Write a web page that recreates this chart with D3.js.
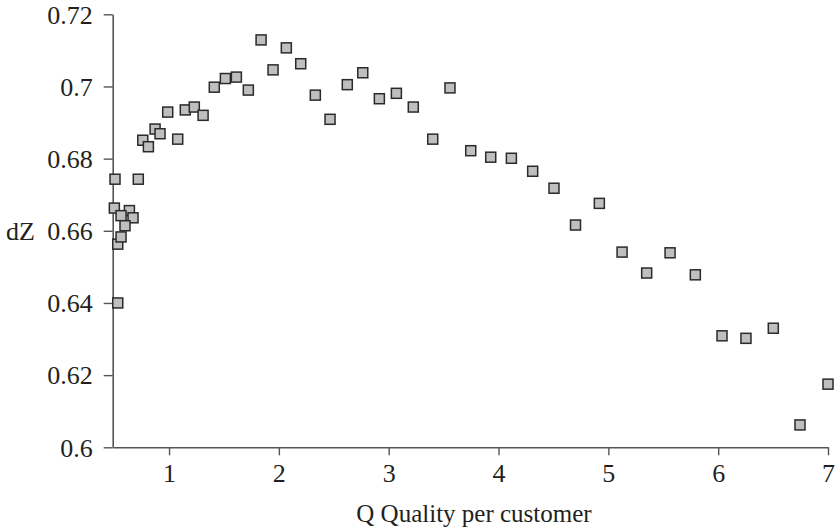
<!DOCTYPE html>
<html>
<head>
<meta charset="utf-8">
<script src="https://cdn.jsdelivr.net/npm/d3@7"></script>
<style>
  body { margin: 0; background: #fff; }
  svg text { font-family: "Liberation Serif", "Times New Roman", serif; fill: #231f20; }
</style>
</head>
<body>
<script>
// Q quality per customer (x) and dZ (y)
var qValues = [0.508, 0.720, 0.502, 0.639, 0.563, 0.672, 0.599, 0.533, 0.563, 0.533,
  0.761, 0.812, 0.873, 0.918, 0.988, 1.079, 1.148, 1.230, 1.310, 1.412,
  1.513, 1.613, 1.722, 1.838, 1.947, 2.068, 2.199, 2.332, 2.466, 2.623,
  2.764, 2.915, 3.070, 3.224, 3.401, 3.558, 3.747, 3.929, 4.117, 4.311,
  4.505, 4.701, 4.918, 5.125, 5.349, 5.562, 5.792, 6.035, 6.253, 6.502,
  6.745, 7.000];
var dzValues = [0.6743, 0.6743, 0.6663, 0.6656, 0.6642, 0.6636, 0.6614, 0.6563, 0.6583, 0.6400,
  0.6851, 0.6833, 0.6882, 0.6869, 0.6929, 0.6854, 0.6935, 0.6943, 0.6920, 0.6998,
  0.7022, 0.7026, 0.6990, 0.7129, 0.7046, 0.7107, 0.7063, 0.6976, 0.6909, 0.7005,
  0.7038, 0.6966, 0.6981, 0.6943, 0.6854, 0.6996, 0.6822, 0.6804, 0.6801, 0.6765,
  0.6718, 0.6616, 0.6676, 0.6541, 0.6483, 0.6539, 0.6478, 0.6309, 0.6302, 0.6330,
  0.6062, 0.6175];

var xTicks = [1, 2, 3, 4, 5, 6, 7];
var yTicks = [0.6, 0.62, 0.64, 0.66, 0.68, 0.7, 0.72];
var yTickLabels = ["0.6", "0.62", "0.64", "0.66", "0.68", "0.7", "0.72"];

var width = 837, height = 531;
var serif = "Liberation Serif, Times New Roman, serif";

var svg = d3.select("body").append("svg")
  .attr("width", width)
  .attr("height", height);

var xScale = d3.scaleLinear()
  .domain([0.487, 7])
  .range([112.7, 828]);
var yScale = d3.scaleLinear()
  .domain([0.6, 0.72])
  .range([447.3, 14.3]);

var xAxis = svg.append("g")
  .attr("transform", "translate(0," + yScale(0.6) + ")")
  .call(d3.axisBottom(xScale)
    .tickValues(xTicks)
    .tickFormat(d3.format("d"))
    .tickSize(8)
    .tickSizeOuter(0)
    .tickPadding(7));

var yAxis = svg.append("g")
  .attr("transform", "translate(" + xScale.range()[0] + ",0)")
  .call(d3.axisLeft(yScale)
    .tickValues(yTicks)
    .tickFormat(function(d, i) { return yTickLabels[i]; })
    .tickSize(9)
    .tickSizeOuter(0)
    .tickPadding(11));

[xAxis, yAxis].forEach(function(a) {
  a.attr("font-family", serif).attr("font-size", 26);
  a.select(".domain").attr("stroke", "#555").attr("stroke-width", 1.6);
  a.selectAll(".tick line").attr("stroke", "#555").attr("stroke-width", 1.4);
  a.selectAll(".tick text")
    .attr("font-family", serif)
    .attr("font-size", 26)
    .attr("fill", "#231f20");
});
yAxis.selectAll(".tick text").attr("dy", "0.34em");
xAxis.selectAll(".tick text").attr("dy", "0.76em");

svg.append("text")
  .attr("x", 474)
  .attr("y", 522)
  .attr("text-anchor", "middle")
  .attr("font-size", 25)
  .text("Q Quality per customer");

svg.append("text")
  .attr("x", 6)
  .attr("y", yScale(0.66))
  .attr("dy", "0.34em")
  .attr("font-size", 26)
  .text("dZ");

var pts = qValues.map(function(q, i) { return { q: q, dz: dzValues[i] }; });
var size = 10;

svg.append("g")
  .selectAll("rect")
  .data(pts)
  .enter()
  .append("rect")
  .attr("x", function(d) { return xScale(d.q) - size / 2; })
  .attr("y", function(d) { return yScale(d.dz) - size / 2; })
  .attr("width", size)
  .attr("height", size)
  .attr("fill", "#bfbfc2")
  .attr("stroke", "#2a2a2a")
  .attr("stroke-width", 1.5);
</script>
</body>
</html>
